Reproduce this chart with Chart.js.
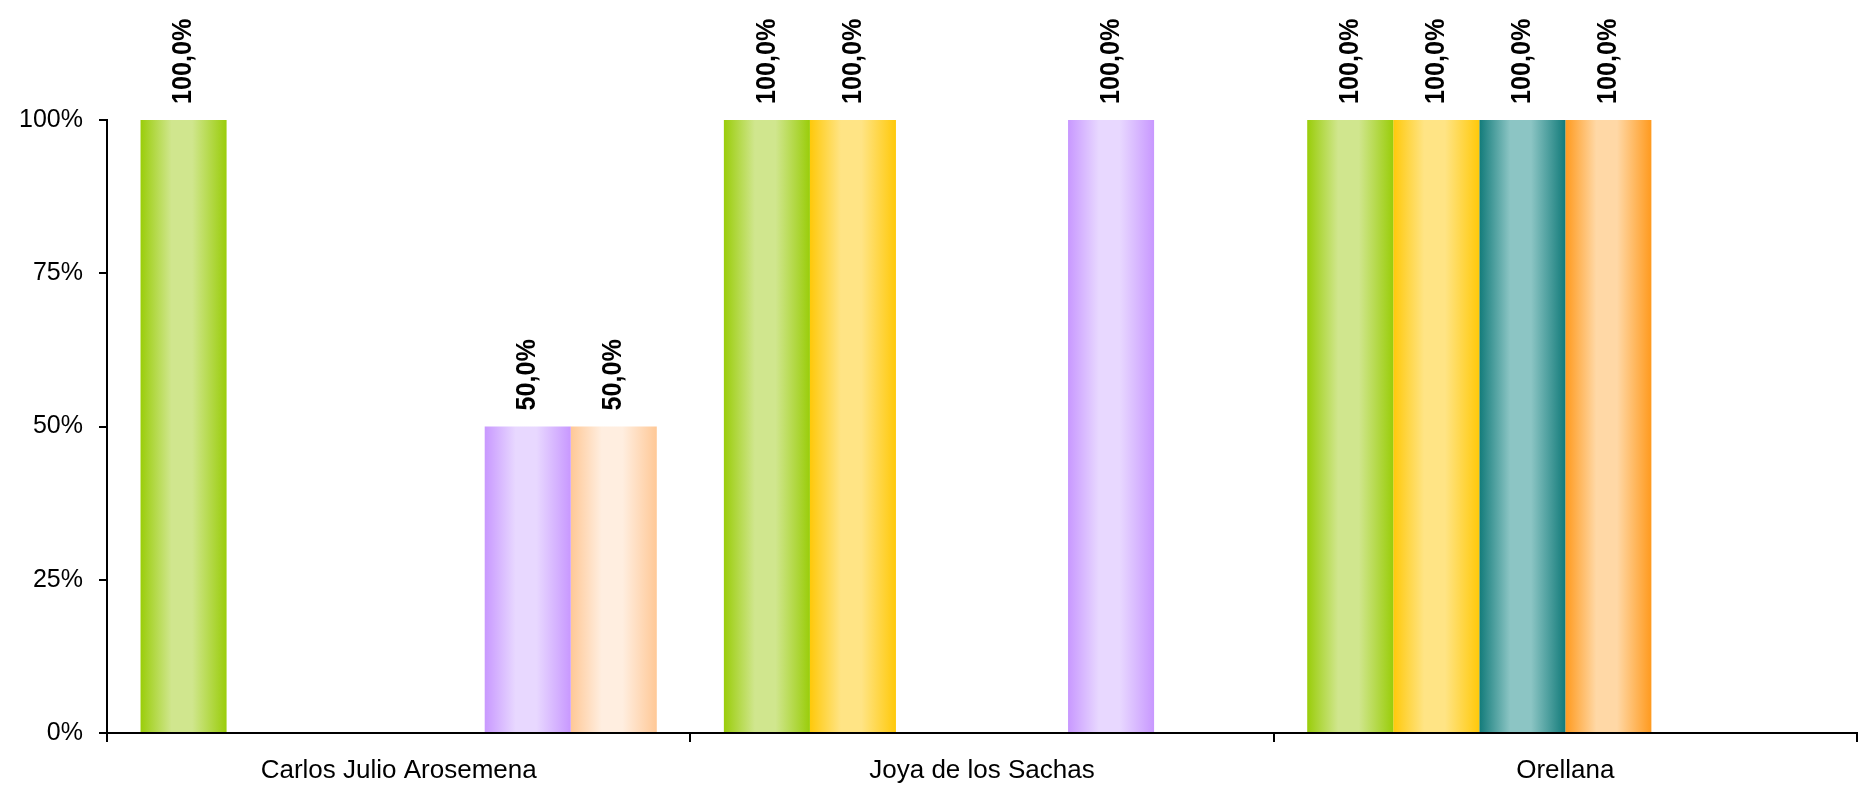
<!DOCTYPE html>
<html>
<head>
<meta charset="utf-8">
<script src="https://cdn.jsdelivr.net/npm/chart.js@4"></script>
<style>
html,body{margin:0;padding:0;background:#fff;}
#wrap{width:1866px;height:788px;position:relative;}
</style>
</head>
<body>
<div id="wrap"><canvas id="c" width="1866" height="788"></canvas></div>
<script>
const categories = ["Carlos Julio Arosemena", "Joya de los Sachas", "Orellana"];
const serie1 = [100, 100, 100];
const serie2 = [null, 100, 100];
const serie3 = [null, null, 100];
const serie4 = [null, null, 100];
const serie5 = [50, 100, null];
const serie6 = [50, null, null];
const yTicks = [0, 25, 50, 75, 100];

const palettes = [
  {edge: "#9ACD0A", light: "#D0E68E"},
  {edge: "#FFC90A", light: "#FFE485"},
  {edge: "#127B7A", light: "#8CC5C4"},
  {edge: "#FF9A1E", light: "#FFD8A6"},
  {edge: "#C898FF", light: "#E8D8FF"},
  {edge: "#FFC896", light: "#FFEEE0"}
];

const seriesList = [serie1, serie2, serie3, serie4, serie5, serie6];
const datasets = seriesList.map((d, i) => ({
  label: "Serie " + (i + 1),
  data: d,
  backgroundColor: (ctx) => palettes[i].edge,
  borderWidth: 0,
  categoryPercentage: 0.885,
  barPercentage: 1.0
}));

const gradientPlugin = {
  id: "cylGradient",
  beforeDatasetsDraw(chart) {
    const ctx = chart.ctx;
    chart.data.datasets.forEach((ds, di) => {
      const meta = chart.getDatasetMeta(di);
      const p = palettes[di];
      meta.data.forEach((el) => {
        const x0 = el.x - el.width / 2, x1 = el.x + el.width / 2;
        if (!isFinite(x0) || !isFinite(x1) || x1 <= x0) return;
        const g = ctx.createLinearGradient(x0, 0, x1, 0);
        g.addColorStop(0, p.edge);
        g.addColorStop(0.36, p.light);
        g.addColorStop(0.6, p.light);
        g.addColorStop(1, p.edge);
        el.options = Object.assign({}, el.options, { backgroundColor: g });
      });
    });
  }
};

const labelPlugin = {
  id: "vlabels",
  afterDatasetsDraw(chart) {
    const ctx = chart.ctx;
    ctx.save();
    ctx.font = "bold 28px 'Liberation Sans', Arial, sans-serif";
    ctx.fillStyle = "#000";
    ctx.textAlign = "left";
    ctx.textBaseline = "middle";
    chart.data.datasets.forEach((ds, di) => {
      const meta = chart.getDatasetMeta(di);
      meta.data.forEach((el, i) => {
        const v = ds.data[i];
        if (v === null || v === undefined) return;
        const txt = v.toFixed(1).replace(".", ",") + "%";
        ctx.save();
        ctx.translate(el.x, el.y - 16);
        ctx.rotate(-Math.PI / 2);
        ctx.scale(0.9, 1);
        ctx.fillText(txt, 0, 0);
        ctx.restore();
      });
    });
    ctx.restore();
  }
};

Chart.defaults.font.family = "'Liberation Sans', Arial, sans-serif";
Chart.defaults.color = "#000";

new Chart(document.getElementById("c"), {
  type: "bar",
  data: { labels: categories, datasets: datasets },
  options: {
    responsive: false,
    animation: false,
    layout: { padding: { top: 120, right: 9, left: 0, bottom: 0 } },
    plugins: { legend: { display: false }, tooltip: { enabled: false } },
    scales: {
      x: {
        offset: true,
        grid: { offset: true, drawOnChartArea: false, drawTicks: true, tickLength: 9, color: "#000", lineWidth: 2 },
        border: { display: true, color: "#000", width: 2 },
        ticks: { font: { size: 26 }, color: "#000", padding: 13 },
        afterFit(s) { s.height = 55; }
      },
      y: {
        min: 0, max: 100,
        afterBuildTicks(s) { s.ticks = yTicks.map(v => ({ value: v })); },
        grid: { drawOnChartArea: false, drawTicks: true, tickLength: 8, color: "#000", lineWidth: 2 },
        border: { display: true, color: "#000", width: 2 },
        ticks: { font: { size: 25 }, color: "#000", padding: 16, callback: v => v + "%" },
        afterFit(s) { s.width = 107; }
      }
    }
  },
  plugins: [gradientPlugin, labelPlugin]
});
</script>
</body>
</html>
